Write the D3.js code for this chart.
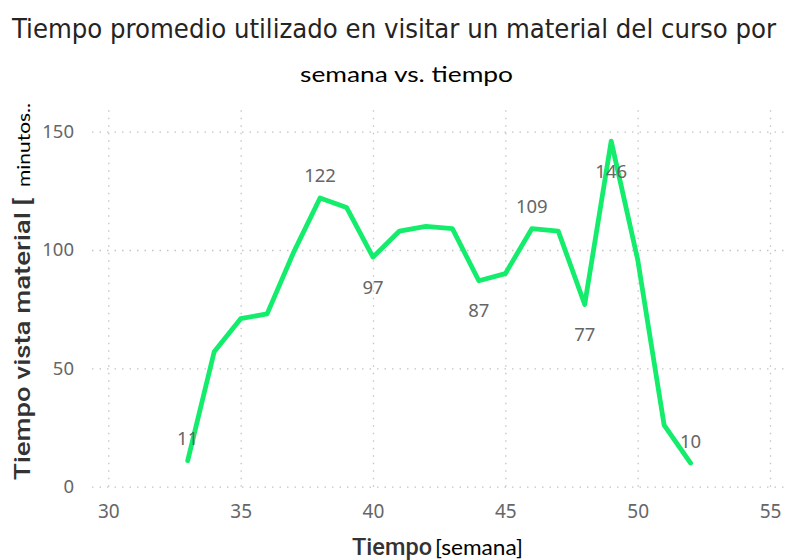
<!DOCTYPE html>
<html>
<head>
<meta charset="utf-8">
<script src="https://cdn.jsdelivr.net/npm/d3@7"></script>
<style>
  html, body { margin: 0; padding: 0; background: #fff; }
  #chart { width: 786px; height: 560px; }
</style>
</head>
<body>
<div id="chart"></div>
<script>
// datos
const weeks = [33, 34, 35, 36, 37, 38, 39, 40, 41, 42, 43, 44, 45, 46, 47, 48, 49, 50, 51, 52];
const minutes = [11, 57, 71, 73, 99, 122, 118, 97, 108, 110, 109, 87, 90, 109, 108, 77, 146, 96, 26, 10];
const labelWeeks = [33, 38, 40, 44, 46, 48, 49, 52];
const labelSide = ["up", "up", "down", "down", "up", "down", "down", "up"];
const xTicks = [30, 35, 40, 45, 50, 55];
const yTicks = [0, 50, 100, 150];

const titleText = "Tiempo promedio utilizado en visitar un material del curso por";
const subtitleText = "semana vs. tiempo";

drawChart = (divID) => {
    let width = 786, height = 560;
    let svg = d3.select("#" + divID).append("svg").attr("width", width).attr("height", height)
        .style("background", "#fff");

    // escalas
    let x = d3.scaleLinear().domain([30, 55]).range([108.3, 770]);
    let y = d3.scaleLinear().domain([0, 160]).range([486.7, 108]);

    // titulo
    svg.append("text").attr("x", 12).attr("y", 38).attr("fill", "#252423")
        .attr("font-family", "'DejaVu Sans Condensed', Roboto, sans-serif")
        .attr("font-size", 27).attr("textLength", 764).attr("lengthAdjust", "spacingAndGlyphs")
        .text(titleText);
    svg.append("text").attr("x", 300).attr("y", 82).attr("fill", "#000")
        .attr("font-family", "Lato, 'Open Sans', sans-serif")
        .attr("font-size", 22).attr("textLength", 213).attr("lengthAdjust", "spacingAndGlyphs")
        .text(subtitleText);

    // eje y + rejilla
    let gy = svg.append("g").attr("transform", "translate(92,0)")
        .call(d3.axisLeft(y).tickValues(yTicks).tickSize(-(width - 92)).tickPadding(18));
    gy.select(".domain").remove();
    gy.selectAll(".tick line").attr("stroke", "#c4c4c4").attr("stroke-width", 1.3).attr("stroke-dasharray", "1.5,6");
    gy.selectAll(".tick text").attr("fill", "#666").attr("font-size", 18.5)
        .attr("font-family", "'Noto Sans', 'Open Sans', sans-serif");

    // eje x + rejilla
    let gx = svg.append("g").attr("transform", "translate(0," + y(0) + ")")
        .call(d3.axisBottom(x).tickValues(xTicks).tickSize(-(y(0) - 107)).tickPadding(18));
    gx.select(".domain").remove();
    gx.selectAll(".tick line").attr("stroke", "#c4c4c4").attr("stroke-width", 1.3).attr("stroke-dasharray", "1.5,6");
    gx.selectAll(".tick text").attr("fill", "#666").attr("font-size", 19)
        .attr("font-family", "'Noto Sans', 'Open Sans', sans-serif");

    // titulos de ejes
    svg.append("text").attr("transform", "translate(30,480) rotate(-90)")
        .attr("fill", "#333").attr("font-family", "Roboto, sans-serif").attr("font-weight", 500)
        .attr("font-size", 22).attr("textLength", 282).attr("lengthAdjust", "spacingAndGlyphs")
        .text("Tiempo vista material [");
    svg.append("text").attr("transform", "translate(29.5,187) rotate(-90)")
        .attr("fill", "#000").attr("font-family", "Lato, 'Open Sans', sans-serif")
        .attr("font-size", 18).attr("textLength", 84).attr("lengthAdjust", "spacingAndGlyphs")
        .text("minutos..");

    svg.append("text").attr("x", 352).attr("y", 555).attr("fill", "#333")
        .attr("font-family", "Roboto, sans-serif").attr("font-weight", 500)
        .attr("font-size", 23).attr("textLength", 80).attr("lengthAdjust", "spacingAndGlyphs")
        .text("Tiempo");
    svg.append("text").attr("x", 435).attr("y", 555).attr("fill", "#000")
        .attr("font-family", "Lato, 'Open Sans', sans-serif")
        .attr("font-size", 21).attr("textLength", 88).attr("lengthAdjust", "spacingAndGlyphs")
        .text("[semana]");

    // linea
    let line = d3.line().x((d, i) => x(weeks[i])).y((d, i) => y(d));
    svg.append("path").datum(minutes).attr("d", line)
        .attr("fill", "none").attr("stroke", "#14ED6C").attr("stroke-width", 4.8)
        .attr("stroke-linejoin", "round").attr("stroke-linecap", "round");

    // etiquetas
    svg.append("g").selectAll("text").data(labelWeeks).enter().append("text")
        .attr("x", d => x(d))
        .attr("y", (d, i) => y(minutes[weeks.indexOf(d)]) + (labelSide[i] == "up" ? -23 : 29))
        .attr("dominant-baseline", "central").attr("text-anchor", "middle")
        .attr("fill", "#666").attr("font-size", 18.5)
        .attr("font-family", "'Noto Sans', 'Open Sans', sans-serif")
        .text(d => minutes[weeks.indexOf(d)]);
}

drawChart("chart");
</script>
</body>
</html>
